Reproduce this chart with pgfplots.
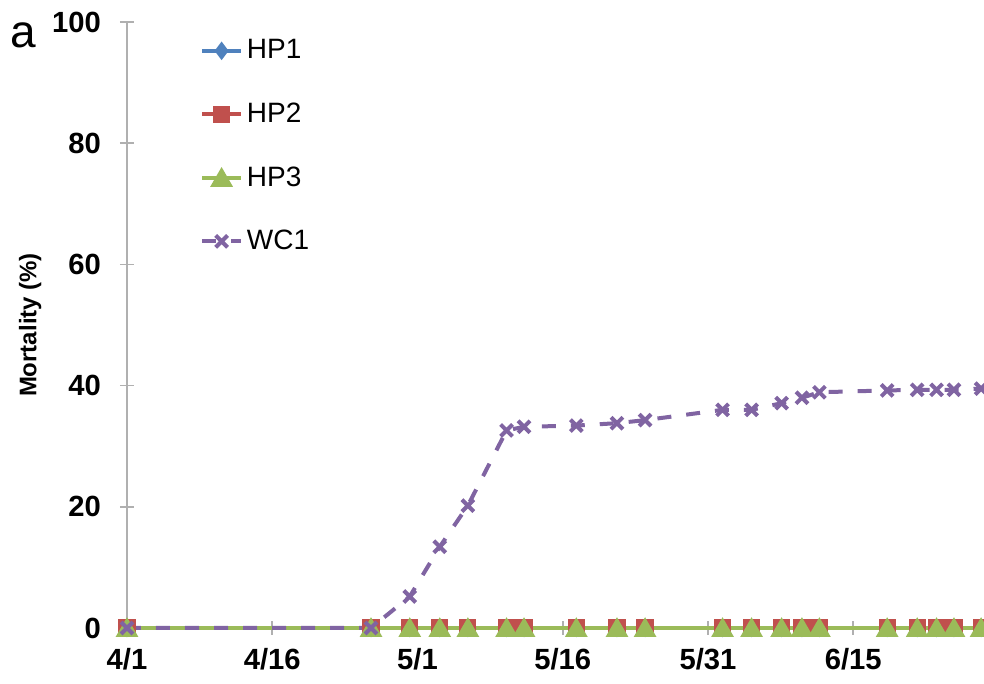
\documentclass[border=0pt]{standalone}
\usepackage{pgfplots}
\usepackage{pgfplotstable}
\pgfplotsset{compat=1.18}
\usepackage{fontspec}
\setmainfont{Liberation Sans}
\definecolor{cHPa}{HTML}{4F81BD}
\definecolor{cHPb}{HTML}{C0504D}
\definecolor{cHPc}{HTML}{9BBB59}
\definecolor{cWC}{HTML}{8064A2}
\definecolor{axgray}{HTML}{B0B0B0}
\pgfplotstableread{
day   hp1 hp2 hp3 wc1
0     0   0   0   0
25.2  0   0   0   0
29.2  0   0   0   5.2
32.3  0   0   0   13.4
35.2  0   0   0   20.2
39.2  0   0   0   32.6
41    0   0   0   33.2
46.4  0   0   0   33.4
50.6  0   0   0   33.8
53.5  0   0   0   34.3
61.5  0   0   0   36.0
64.5  0   0   0   36.0
67.6  0   0   0   37.1
69.7  0   0   0   38.0
71.5  0   0   0   38.9
78.5  0   0   0   39.2
81.6  0   0   0   39.3
83.6  0   0   0   39.3
85.4  0   0   0   39.3
88.2  0   0   0   39.5
}\mydata
\begin{document}
\begin{tikzpicture}
\begin{axis}[
  scale only axis,
  width=428.5pt, height=303pt,
  xmin=0, xmax=88.5, ymin=0, ymax=100,
  clip=false,
  axis lines*=left,
  axis line style={axgray, line width=0.9pt},
  xtick={0,15,30,45,60,75},
  xticklabels={4/1,4/16,5/1,5/16,5/31,6/15},
  ytick={0,20,40,60,80,100},
  tick align=center,
  major tick length=7pt,
  tick style={axgray, line width=0.8pt},
  /pgf/number format/assume math mode=true,
  ticklabel style={font=\bfseries\fontsize{14.6}{16}\selectfont},
  yticklabel style={xshift=-6pt},
  xticklabel style={yshift=-3pt},
  every axis y label/.style={at={(axis description cs:-0.113,0.5)},rotate=90,anchor=center},
  ylabel={\bfseries\fontsize{12}{14}\selectfont Mortality (\%)},
  legend style={draw=none, fill=none, at={(axis description cs:0.085,0.978)}, anchor=north west,
    font=\fontsize{14}{15}\selectfont, row sep=16.5pt, inner sep=0pt,
    legend cell align=left},
  legend image code/.code={\draw[mark repeat=2,mark phase=2] plot coordinates {(0cm,0cm) (0.34cm,0cm) (0.68cm,0cm)};},
]
\addplot[cHPa, line width=2pt, mark=diamond*, mark size=3pt] table[x=day,y=hp1]{\mydata};
\addlegendentry{HP1}
\addplot[cHPb, line width=2pt, mark=square*, mark size=3.3pt] table[x=day,y=hp2]{\mydata};
\addlegendentry{HP2}
\addplot[cHPc, line width=2pt, mark=triangle*, mark size=4.6pt, mark options={yshift=-1.2pt}] table[x=day,y=hp3]{\mydata};
\addlegendentry{HP3}
\addplot[cWC, line width=2pt, dash pattern=on 7pt off 7.5pt, mark=x, mark size=4.2pt, mark options={solid, line width=2pt}] table[x=day,y=wc1]{\mydata};
\addlegendentry{WC1}
\end{axis}
\node[anchor=base west, font=\fontsize{23}{24}\selectfont] at (-62pt,290pt) {a};
\pgfresetboundingbox
\path[use as bounding box] (-63.5pt,-28pt) rectangle (428.5pt,314pt);
\end{tikzpicture}
\end{document}
